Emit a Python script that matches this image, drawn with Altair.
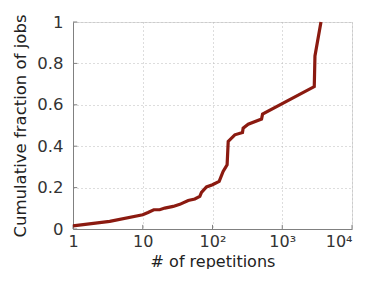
import altair as alt
import pandas as pd

reps = [1, 3.36, 10, 11.9, 14.4, 17.5, 20.7, 27.3, 34, 44.8, 55.8, 65.8, 69.5, 82, 100, 124.7,
        142, 162, 168, 209, 269, 275, 325, 505, 522, 2878, 2944, 3590]
frac = [0.015, 0.037, 0.069, 0.080, 0.093, 0.093, 0.101, 0.109, 0.119, 0.138, 0.145, 0.158,
        0.177, 0.203, 0.214, 0.230, 0.278, 0.310, 0.423, 0.455, 0.466, 0.487, 0.506, 0.531,
        0.555, 0.688, 0.836, 1.0]
x_ticks = [1, 10, 100, 1000, 10000]
y_ticks = [0, 0.2, 0.4, 0.6, 0.8, 1]

df = pd.DataFrame({"reps": reps, "frac": frac})
xt = pd.DataFrame({"t": x_ticks, "y0": 0.0, "y1": 0.02})
yt = pd.DataFrame({"t": y_ticks, "x0": 1.0, "x1": 1.15})

xs = alt.Scale(type="log", domain=[1, 10000], nice=False)
ys = alt.Scale(domain=[0, 1], nice=False)

FONT = "DejaVu Sans"
FS = 16.5
line = alt.Chart(df).mark_line(color="#8b1a10", strokeWidth=3.2, strokeCap="butt").encode(
    x=alt.X("reps:Q", scale=xs, title="# of repetitions",
            axis=alt.Axis(values=x_ticks, tickSize=0, labelPadding=4,
                          titleY=40, titleBaseline="bottom",
                          labelAlign=alt.ExprRef(expr="datum.value == 10000 ? 'right' : 'center'"),
                          labelExpr="datum.value == 1 ? '1' : datum.value == 10 ? '10' : datum.value == 100 ? '10²' : datum.value == 1000 ? '10³' : '10⁴ '",
                          gridDash=[1, 3], gridColor="#bbbbbb", domainColor="#808080",
                          labelFontSize=16, titleFontSize=16, labelColor="#333333",
                          titleColor="#222222", labelFont=FONT, titleFont=FONT,
                          titleFontWeight="normal", labelFlush=False)),
    y=alt.Y("frac:Q", scale=ys, title="Cumulative fraction of jobs",
            axis=alt.Axis(values=y_ticks, tickSize=0, labelPadding=10, titlePadding=8,
                          gridDash=[1, 3], gridColor="#bbbbbb", domainColor="#808080",
                          labelFontSize=FS, titleFontSize=FS, labelColor="#333333",
                          titleColor="#222222", labelFont=FONT, titleFont=FONT,
                          titleFontWeight="normal", labelFlush=False,
                          labelExpr="datum.value == 0 ? '0' : datum.value == 1 ? '1' : format(datum.value, '.1f')")),
)

xtick = alt.Chart(xt).mark_rule(color="#808080", strokeWidth=1).encode(
    x=alt.X("t:Q", scale=xs), y=alt.Y("y0:Q", scale=ys), y2="y1:Q")
ytick = alt.Chart(yt).mark_rule(color="#808080", strokeWidth=1).encode(
    y=alt.Y("t:Q", scale=ys), x=alt.X("x0:Q", scale=xs), x2="x1:Q")

chart = alt.layer(xtick, ytick, line).properties(
    width=279, height=207,
    autosize=alt.AutoSizeParams(type="none"),
    padding={"left": 65, "top": 14, "right": 5, "bottom": 40},
).configure_view(stroke=None).configure_axis(grid=True).configure(font=FONT)

chart.save("out.html", embed_options={"renderer": "svg", "actions": False})
